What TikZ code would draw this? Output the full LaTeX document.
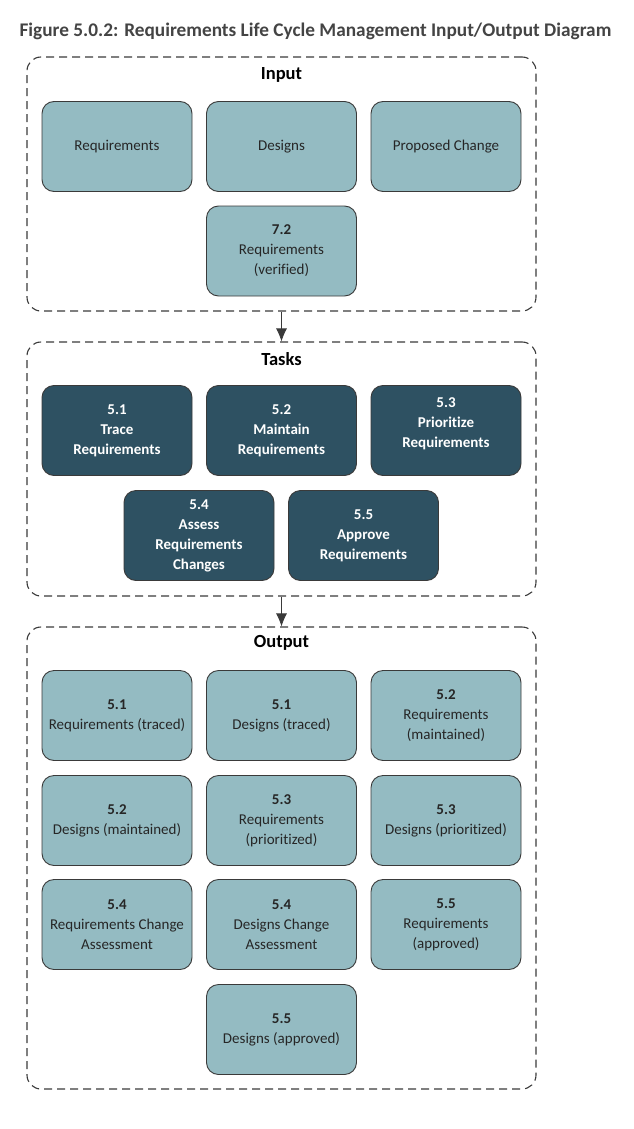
\documentclass[tikz,border=0pt]{standalone}
\usepackage{fontspec}
\setmainfont[Ligatures=NoCommon]{Carlito}
\usetikzlibrary{arrows.meta}
\definecolor{lightbox}{HTML}{94BBC2}
\definecolor{darkbox}{HTML}{2E5162}
\definecolor{edge}{HTML}{3A3A3A}
\definecolor{titlegrey}{HTML}{444444}
\tikzset{
  x=1pt, y=-1pt,
  box/.style={rectangle, rounded corners=12pt, minimum width=150pt, minimum height=90pt,
    align=center, draw=edge, line width=0.9pt, inner sep=2pt,
    font=\fontsize{15}{20}\selectfont},
  inbox/.style={box, fill=lightbox, text=black!85},
  taskbox/.style={box, fill=darkbox, text=white, font=\fontsize{15}{20}\selectfont\bfseries},
  container/.style={rectangle, rounded corners=14pt, draw=edge, line width=1.1pt,
    dash pattern=on 8pt off 5pt},
  heading/.style={font=\fontsize{18.5}{20}\selectfont\bfseries, text=black},
  flow/.style={draw=edge, line width=0.8pt, -{Latex[length=13pt,width=11pt]}},
}
\begin{document}
\begin{tikzpicture}
\useasboundingbox (0,0) rectangle (633,1129);
\node[font=\fontsize{19.3}{22}\selectfont\bfseries, text=titlegrey] (title) at (315.5,31) {Figure 5.0.2: Requirements Life Cycle Management Input/Output Diagram};

% containers
\node[container, minimum width=509pt, minimum height=254pt] (inp) at (281.5,184) {};
\node[container, minimum width=509pt, minimum height=254pt] (tsk) at (281.5,469) {};
\node[container, minimum width=509pt, minimum height=462pt] (out) at (281.5,858) {};

\node[heading] (inpl) at (281.5,75) {Input};
\node[heading] (tskl) at (281.5,359) {Tasks};
\node[heading] (outl) at (281.5,643) {Output};

% input
\node[inbox] (i1) at (117,146.5) {Requirements};
\node[inbox] (i2) at (281.5,146.5) {Designs};
\node[inbox] (i3) at (446,146.5) {Proposed Change};
\node[inbox] (i4) at (281.5,251) {\textbf{7.2}\\Requirements\\(verified)};

% tasks
\node[taskbox] (t1) at (117,430.5) {5.1\\Trace\\Requirements};
\node[taskbox] (t2) at (281.5,430.5) {5.2\\Maintain\\Requirements};
\node[taskbox, text depth=16pt] (t3) at (446,430.5) {5.3\\Prioritize\\Requirements};
\node[taskbox] (t4) at (199,535.5) {5.4\\Assess\\Requirements\\Changes};
\node[taskbox] (t5) at (363.5,535.5) {5.5\\Approve\\Requirements};

% output
\node[inbox] (o1) at (117,715.5) {\textbf{5.1}\\Requirements (traced)};
\node[inbox] (o2) at (281.5,715.5) {\textbf{5.1}\\Designs (traced)};
\node[inbox] (o3) at (446,715.5) {\textbf{5.2}\\Requirements\\(maintained)};
\node[inbox] (o4) at (117,820.5) {\textbf{5.2}\\Designs (maintained)};
\node[inbox] (o5) at (281.5,820.5) {\textbf{5.3}\\Requirements\\(prioritized)};
\node[inbox] (o6) at (446,820.5) {\textbf{5.3}\\Designs (prioritized)};
\node[inbox] (o7) at (117,924.5) {\textbf{5.4}\\Requirements Change\\Assessment};
\node[inbox] (o8) at (281.5,924.5) {\textbf{5.4}\\Designs Change\\Assessment};
\node[inbox] (o9) at (446,924.5) {\textbf{5.5}\\Requirements\\(approved)};
\node[inbox] (o10) at (281.5,1029.5) {\textbf{5.5}\\Designs (approved)};

% arrows
\draw[flow] (inp.south) -- (tsk.north);
\draw[flow] (tsk.south) -- (out.north);
\end{tikzpicture}
\end{document}
